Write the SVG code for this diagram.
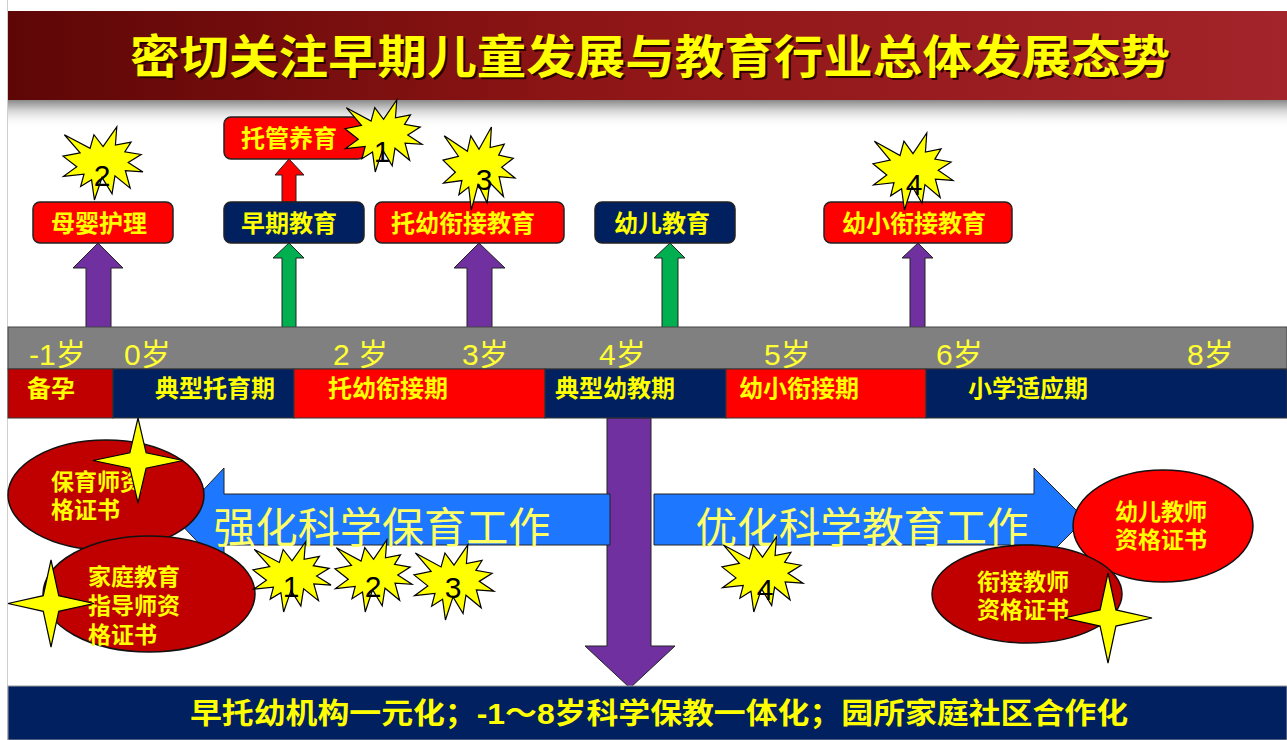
<svg xmlns="http://www.w3.org/2000/svg" width="1287" height="740" viewBox="0 0 1287 740">
<defs>
<linearGradient id="titleGrad" x1="0" y1="0" x2="1" y2="0">
<stop offset="0" stop-color="#5e0606"/>
<stop offset="0.45" stop-color="#8e1515"/>
<stop offset="1" stop-color="#a3242a"/>
</linearGradient>
<linearGradient id="shadowGrad" x1="0" y1="0" x2="0" y2="1">
<stop offset="0" stop-color="#8a8a8a"/>
<stop offset="0.35" stop-color="#d0d0d0"/>
<stop offset="1" stop-color="#ffffff" stop-opacity="0"/>
</linearGradient>
<symbol id="burst" viewBox="0 0 100 100" preserveAspectRatio="none" overflow="visible">
<path vector-effect="non-scaling-stroke" d="M50,26.85 L67.23,0 L65.53,24.65 L85.09,20.63 L77.32,33.87 L97.67,37.67 L81.51,48.5 L100,61.53 L77.95,59.92 L84,83.77 L64.91,66.93 L61.33,91.38 L48.76,69.14 L39.28,100 L35.72,72.35 L22.05,81.56 L26.24,64.52 L0.63,67.53 L17.23,54.51 L0,39.88 L21.42,35.26 L1.71,10.63 L33.85,29.26 L38.67,10.63 Z"/>
</symbol>
<symbol id="star4" viewBox="-50 -50 100 100" preserveAspectRatio="none" overflow="visible">
<path vector-effect="non-scaling-stroke" d="M0,-50 L9,-9 L50,0 L9,9 L0,50 L-9,9 L-50,0 L-9,-9 Z"/>
</symbol>
</defs>
<style>
text{font-family:"Liberation Sans","Noto Sans CJK SC",sans-serif;}
.burst{fill:#ffff00;stroke:#000;stroke-width:1.2;}
.star{fill:#ffff00;stroke:#000;stroke-width:1.2;}
.num{font-size:30px;fill:#000;text-anchor:middle;}
.box{stroke:#222;stroke-width:1.5;}
.red{fill:#ff0000;}
.navy{fill:#002060;}
.dred{fill:#c00000;}
.boxt{font-size:24px;font-weight:bold;fill:#ffff00;text-anchor:middle;}
.age{font-size:30px;fill:#ffff33;}
.per{font-size:24px;font-weight:bold;fill:#ffff00;}
.ell{stroke:#111;stroke-width:1.5;}
.ellt{font-size:23px;font-weight:bold;fill:#ffff00;}
.arr{stroke:#222;stroke-width:1;}
.purple{fill:#7030a0;}
.green{fill:#00b050;}
.blue{fill:#1e78ff;}
.big{font-size:42px;fill:#ffff66;}
</style>
<rect x="0" y="0" width="1287" height="740" fill="#ffffff"/>
<line x1="7.5" y1="0" x2="7.5" y2="740" stroke="#cfcfcf" stroke-width="1"/>

<g id="title">
<rect x="8" y="11" width="1279" height="89" fill="url(#titleGrad)"/>
<rect x="8" y="100" width="1279" height="28" fill="url(#shadowGrad)"/>
<text x="652" y="75" font-size="46" font-weight="bold" fill="#2a0000" text-anchor="middle" textLength="1040" lengthAdjust="spacingAndGlyphs">密切关注早期儿童发展与教育行业总体发展态势</text>
<text x="650" y="73" font-size="46" font-weight="bold" fill="#ffff00" text-anchor="middle" textLength="1040" lengthAdjust="spacingAndGlyphs">密切关注早期儿童发展与教育行业总体发展态势</text>
</g>

<g id="connectors">
<polygon class="arr purple" points="86,328 86,268 73,268 98,243 123,268 111,268 111,328"/>
<polygon class="arr green" points="282,328 282,258 273,258 289,243 304,258 296,258 296,328"/>
<polygon class="arr red" points="282,202 282,175 275,175 289,159 304,175 296,175 296,202"/>
<polygon class="arr purple" points="467,328 467,268 454,268 479,243 505,268 492,268 492,328"/>
<polygon class="arr green" points="662,328 662,258 654,258 670,243 685,258 678,258 678,328"/>
<polygon class="arr purple" points="910,328 910,258 902,258 918,243 933,258 925,258 925,328"/>
<polygon id="down-arrow" class="arr purple" points="607,418 651,418 651,646 675,646 630,688 585,646 607,646"/>
<polygon id="left-arrow" class="arr blue" points="610,494 224,494 224,468 176,519 224,570 224,545 610,545"/>
<polygon id="right-arrow" class="arr blue" points="654,494 1034,494 1034,468 1085,519 1034,570 1034,545 654,545"/>
</g>

<g id="node-muying">
<rect class="box red" x="33" y="202" width="140" height="41" rx="7"/>
<text class="boxt" x="99" y="232">母婴护理</text>
</g>
<g id="node-tuoguan">
<rect class="box red" x="224" y="117" width="141" height="42" rx="7"/>
<text class="boxt" x="289" y="147">托管养育</text>
</g>
<g id="node-zaoqi">
<rect class="box navy" x="224" y="202" width="140" height="41" rx="7"/>
<text class="boxt" x="289" y="232">早期教育</text>
</g>
<g id="node-tuoyou">
<rect class="box red" x="375" y="202" width="189" height="41" rx="7"/>
<text class="boxt" x="463" y="232">托幼衔接教育</text>
</g>
<g id="node-youer">
<rect class="box navy" x="595" y="202" width="140" height="41" rx="7"/>
<text class="boxt" x="662" y="232">幼儿教育</text>
</g>
<g id="node-youxiao">
<rect class="box red" x="824" y="202" width="188" height="41" rx="7"/>
<text class="boxt" x="914" y="232">幼小衔接教育</text>
</g>

<g id="timeline">
<rect x="8" y="327" width="1279" height="42" fill="#808080" stroke="#444" stroke-width="1"/>
<text class="age" x="29" y="365">-1岁</text>
<text class="age" x="124" y="365">0岁</text>
<text class="age" x="333" y="365">2 岁</text>
<text class="age" x="462" y="365">3岁</text>
<text class="age" x="599" y="365">4岁</text>
<text class="age" x="764" y="365">5岁</text>
<text class="age" x="936" y="365">6岁</text>
<text class="age" x="1187" y="365">8岁</text>
</g>

<g id="periods">
<rect class="dred" x="8" y="369" width="105" height="49" stroke="#333" stroke-width="1"/>
<text class="per" x="27" y="397">备孕</text>
<rect class="navy" x="113" y="369" width="181" height="49" stroke="#333" stroke-width="1"/>
<text class="per" x="155" y="397">典型托育期</text>
<rect class="red" x="294" y="369" width="251" height="49" stroke="#333" stroke-width="1"/>
<text class="per" x="328" y="397">托幼衔接期</text>
<rect class="navy" x="545" y="369" width="181" height="49" stroke="#333" stroke-width="1"/>
<text class="per" x="555" y="397">典型幼教期</text>
<rect class="red" x="726" y="369" width="200" height="49" stroke="#333" stroke-width="1"/>
<text class="per" x="739" y="397">幼小衔接期</text>
<rect class="navy" x="926" y="369" width="361" height="49" stroke="#333" stroke-width="1"/>
<text class="per" x="968" y="397">小学适应期</text>
</g>

<g id="label-left">
<text class="big" x="382" y="543" text-anchor="middle" textLength="337" lengthAdjust="spacingAndGlyphs">强化科学保育工作</text>
</g>
<g id="label-right">
<text class="big" x="862" y="543" text-anchor="middle" textLength="333" lengthAdjust="spacingAndGlyphs">优化科学教育工作</text>
</g>

<g id="cert-baoyu">
<ellipse class="ell dred" cx="106" cy="495" rx="98" ry="55"/>
<text class="ellt" x="51" y="490">保育师资</text>
<text class="ellt" x="51" y="518">格证书</text>
</g>
<g id="cert-jiating">
<ellipse class="ell dred" cx="149" cy="594" rx="106" ry="58"/>
<text class="ellt" x="88" y="585">家庭教育</text>
<text class="ellt" x="88" y="614">指导师资</text>
<text class="ellt" x="88" y="643">格证书</text>
</g>
<g id="cert-youer">
<ellipse class="ell red" cx="1163" cy="526" rx="90" ry="56"/>
<text class="ellt" x="1161" y="520" text-anchor="middle">幼儿教师</text>
<text class="ellt" x="1161" y="548" text-anchor="middle">资格证书</text>
</g>
<g id="cert-xianjie">
<ellipse class="ell dred" cx="1027" cy="594" rx="95" ry="49"/>
<text class="ellt" x="1023" y="590" text-anchor="middle">衔接教师</text>
<text class="ellt" x="1023" y="618" text-anchor="middle">资格证书</text>
</g>

<g id="stars4">
<use href="#star4" class="star" x="93" y="418" width="90" height="85"/>
<use href="#star4" class="star" x="8" y="560" width="86" height="87"/>
<use href="#star4" class="star" x="1064" y="573" width="88" height="90"/>
</g>

<g id="burst-top-2">
<use href="#burst" class="burst" x="63" y="127" width="80" height="73"/>
<text class="num" x="102" y="186">2</text>
</g>
<g id="burst-top-1">
<use href="#burst" class="burst" x="345" y="100" width="77" height="72"/>
<text class="num" x="382" y="162">1</text>
</g>
<g id="burst-top-3">
<use href="#burst" class="burst" x="443" y="127" width="72" height="83"/>
<text class="num" x="484" y="190">3</text>
</g>
<g id="burst-top-4">
<use href="#burst" class="burst" x="873" y="133" width="80" height="77"/>
<text class="num" x="914" y="195">4</text>
</g>
<g id="burst-bottom-1">
<use href="#burst" class="burst" x="253" y="542" width="78" height="70"/>
<text class="num" x="291" y="597">1</text>
</g>
<g id="burst-bottom-2">
<use href="#burst" class="burst" x="335" y="540" width="77" height="72"/>
<text class="num" x="373" y="597">2</text>
</g>
<g id="burst-bottom-3">
<use href="#burst" class="burst" x="414" y="545" width="80" height="75"/>
<text class="num" x="453" y="598">3</text>
</g>
<g id="burst-bottom-4">
<use href="#burst" class="burst" x="722" y="537" width="81" height="75"/>
<text class="num" x="765" y="600">4</text>
</g>

<g id="summary">
<rect x="8" y="686" width="1279" height="54" fill="#002060" stroke="#9a9a9a" stroke-width="1"/>
<text x="659" y="724" font-size="29" font-weight="bold" fill="#ffff00" text-anchor="middle" textLength="938" lengthAdjust="spacingAndGlyphs">早托幼机构一元化；-1～8岁科学保教一体化；园所家庭社区合作化</text>
</g>
</svg>
